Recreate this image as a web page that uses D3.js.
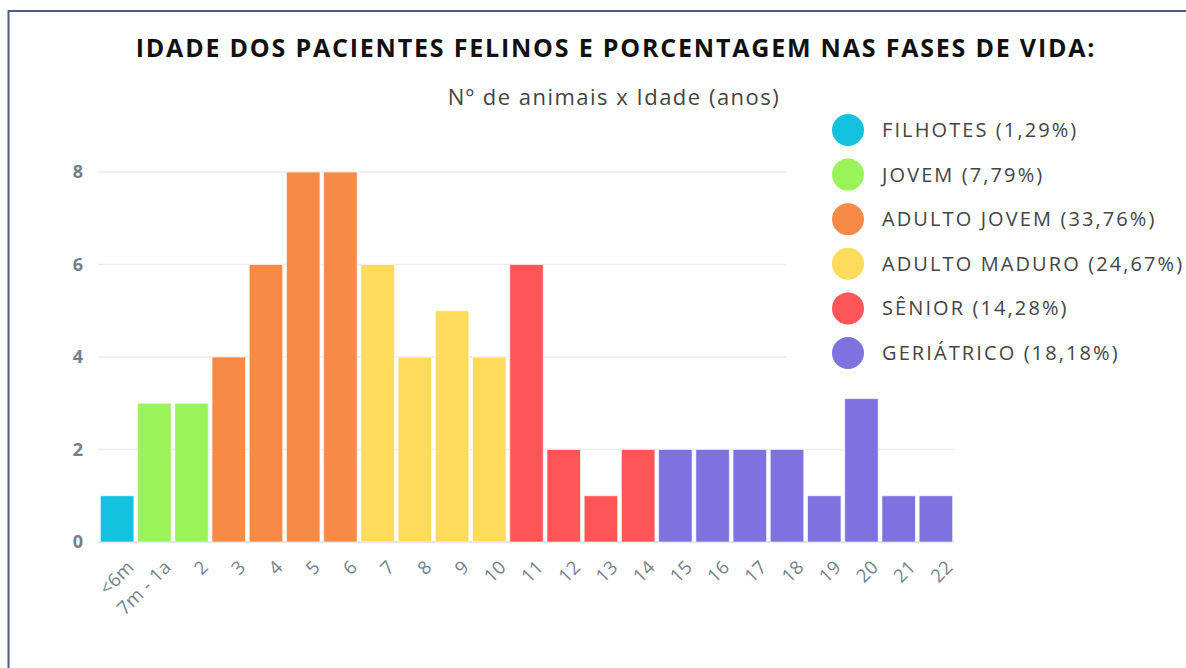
<!DOCTYPE html>
<html>
<head>
<meta charset="utf-8">
<script src="https://cdn.jsdelivr.net/npm/d3@7"></script>
<style>
  body { margin: 0; background: #fff; }
  svg { display: block; font-family: "Open Sans", "Noto Sans", sans-serif; }
</style>
</head>
<body>
<div id="chart"></div>
<script>
// Age categories (x axis)
const ages = ['<6m', '7m - 1a', '2', '3', '4', '5', '6', '7', '8', '9', '10', '11',
  '12', '13', '14', '15', '16', '17', '18', '19', '20', '21', '22'];
// Number of animals per age
const counts = [1, 3, 3, 4, 6, 8, 8, 6, 4, 5, 4, 6, 2, 1, 2, 2, 2, 2, 2, 1, 3.1, 1, 1];
// Life phase of each bar (index into phases)
const phaseOf = [0, 1, 1, 2, 2, 2, 2, 3, 3, 3, 3, 4, 4, 4, 4, 5, 5, 5, 5, 5, 5, 5, 5];
// Legend
const phases = ['FILHOTES (1,29%)', 'JOVEM (7,79%)', 'ADULTO JOVEM (33,76%)',
  'ADULTO MADURO (24,67%)', 'SÊNIOR (14,28%)', 'GERIÁTRICO (18,18%)'];
const phaseColors = ['#12c2de', '#9bf35a', '#f78b45', '#fedb5b', '#fe5656', '#7e72e0'];
const yTicks = [0, 2, 4, 6, 8];

const font = '"Open Sans", "Noto Sans", sans-serif';
const width = 1186, height = 668;
const svg = d3.select('#chart').append('svg')
  .attr('width', width)
  .attr('height', height);

// frame
svg.append('rect')
  .attr('x', 8.5).attr('y', 11)
  .attr('width', 1300).attr('height', 800)
  .attr('fill', 'none')
  .attr('stroke', '#4d5c7d')
  .attr('stroke-width', 2);

const x = d3.scaleBand()
  .domain(ages)
  .range([98.5, 954.5])
  .paddingInner(0.1)
  .paddingOuter(0.05);

const y = d3.scaleLinear()
  .domain([0, 8])
  .range([542, 172]);

// gridlines
svg.append('g')
  .selectAll('line')
  .data(yTicks)
  .join('line')
  .attr('x1', 98).attr('x2', 954)
  .attr('y1', d => y(d)).attr('y2', d => y(d))
  .attr('stroke', d => d === 0 ? '#d5d9de' : '#ececec')
  .attr('stroke-width', 1.5);

// y axis labels
const yAxis = svg.append('g')
  .attr('transform', 'translate(83,0)')
  .call(d3.axisLeft(y).tickValues(yTicks).tickSize(0).tickPadding(0))
  .attr('font-family', font);
yAxis.select('.domain').remove();
yAxis.selectAll('text')
  .attr('font-size', 18)
  .attr('font-weight', 'bold')
  .attr('fill', '#737f8e');

// bars
svg.append('g')
  .selectAll('rect')
  .data(counts)
  .join('rect')
  .attr('x', (d, i) => x(ages[i]))
  .attr('y', d => y(d))
  .attr('width', x.bandwidth())
  .attr('height', d => y(0) - y(d))
  .attr('fill', (d, i) => phaseColors[phaseOf[i]])
  .attr('stroke', '#fff')
  .attr('stroke-opacity', 0.6)
  .attr('stroke-width', 1);

// x axis labels
const xAxis = svg.append('g')
  .attr('transform', 'translate(0,548)')
  .call(d3.axisBottom(x).tickSize(0).tickPadding(0))
  .attr('font-family', font);
xAxis.select('.domain').remove();
xAxis.selectAll('text')
  .attr('font-size', 18.5)
  .attr('fill', '#737f8e')
  .attr('letter-spacing', 0.5)
  .attr('text-anchor', 'end')
  .attr('dy', '0.7em')
  .attr('transform', 'translate(9,11) rotate(-45)');

// legend (white panel over the gridlines)
svg.append('rect')
  .attr('x', 786).attr('y', 105)
  .attr('width', 400).attr('height', 270)
  .attr('fill', '#fff');

const legend = svg.append('g')
  .selectAll('g')
  .data(phases)
  .join('g')
  .attr('transform', (d, i) => `translate(848,${130 + i * 44.6})`);
legend.append('circle')
  .attr('r', 16)
  .attr('fill', (d, i) => phaseColors[i]);
legend.append('text')
  .attr('x', 34)
  .attr('dy', '0.35em')
  .attr('font-size', 20)
  .attr('letter-spacing', 2.1)
  .attr('fill', '#444')
  .text(d => d);

// titles
svg.append('text')
  .attr('x', 616).attr('y', 57)
  .attr('text-anchor', 'middle')
  .attr('font-size', 25)
  .attr('font-weight', 'bold')
  .attr('letter-spacing', 1.8)
  .attr('fill', '#111')
  .text('IDADE DOS PACIENTES FELINOS E PORCENTAGEM NAS FASES DE VIDA:');

svg.append('text')
  .attr('x', 614).attr('y', 105)
  .attr('text-anchor', 'middle')
  .attr('font-size', 22)
  .attr('letter-spacing', 1.5)
  .attr('fill', '#444')
  .text('Nº de animais x Idade (anos)');
</script>
</body>
</html>
